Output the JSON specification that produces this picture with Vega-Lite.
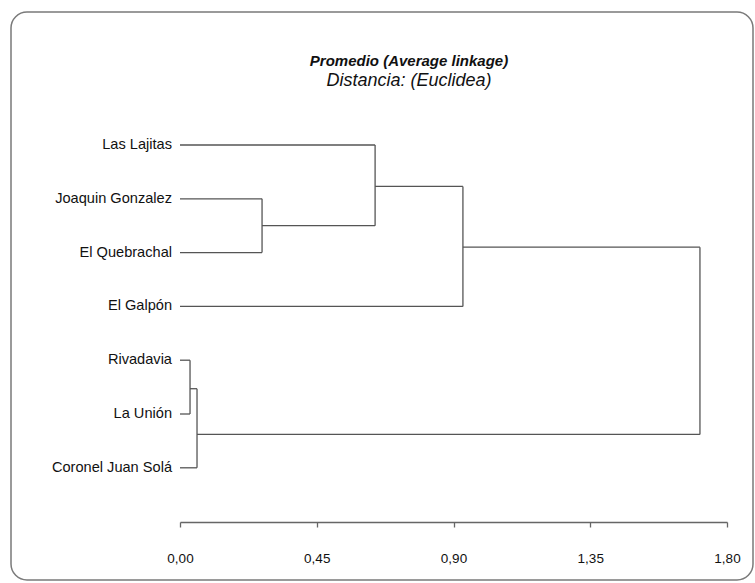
{
  "$schema": "https://vega.github.io/schema/vega-lite/v6.json",
  "autosize": {"type": "none"},
  "padding": {"left": 11, "top": 12, "right": 2, "bottom": 3},
  "width": 742,
  "height": 568,
  "background": "white",
  "config": {
    "font": "Liberation Sans",
    "view": {"stroke": "#7a7a7a", "strokeWidth": 1.5, "cornerRadius": 16}
  },
  "title": {
    "text": "Promedio (Average linkage)",
    "subtitle": "Distancia: (Euclidea)",
    "font": "Liberation Sans",
    "fontSize": 15,
    "fontStyle": "italic",
    "fontWeight": "bold",
    "color": "#111",
    "subtitleFont": "Liberation Sans",
    "subtitleFontSize": 18,
    "subtitleFontStyle": "italic",
    "subtitleColor": "#111",
    "subtitlePadding": 3,
    "anchor": "middle",
    "frame": "group",
    "dx": 27,
    "offset": -78
  },
  "datasets": {
    "segments": [
      {"x1": 0, "x2": 0.642, "y1": 0, "y2": 0},
      {"x1": 0, "x2": 0.27, "y1": 1, "y2": 1},
      {"x1": 0, "x2": 0.27, "y1": 2, "y2": 2},
      {"x1": 0, "x2": 0.931, "y1": 3, "y2": 3},
      {"x1": 0, "x2": 0.033, "y1": 4, "y2": 4},
      {"x1": 0, "x2": 0.033, "y1": 5, "y2": 5},
      {"x1": 0, "x2": 0.056, "y1": 6, "y2": 6},
      {"x1": 0.27, "x2": 0.27, "y1": 1, "y2": 2},
      {"x1": 0.642, "x2": 0.642, "y1": 0, "y2": 1.5},
      {"x1": 0.931, "x2": 0.931, "y1": 0.77, "y2": 3},
      {"x1": 0.033, "x2": 0.033, "y1": 4, "y2": 5},
      {"x1": 0.056, "x2": 0.056, "y1": 4.53, "y2": 6},
      {"x1": 1.711, "x2": 1.711, "y1": 1.9, "y2": 5.38},
      {"x1": 0.27, "x2": 0.642, "y1": 1.5, "y2": 1.5},
      {"x1": 0.642, "x2": 0.931, "y1": 0.77, "y2": 0.77},
      {"x1": 0.931, "x2": 1.711, "y1": 1.9, "y2": 1.9},
      {"x1": 0.033, "x2": 0.056, "y1": 4.53, "y2": 4.53},
      {"x1": 0.056, "x2": 1.711, "y1": 5.38, "y2": 5.38}
    ],
    "leaves": [
      {"leaf": "Las Lajitas", "pos": 0, "dist": 0},
      {"leaf": "Joaquin Gonzalez", "pos": 1, "dist": 0},
      {"leaf": "El Quebrachal", "pos": 2, "dist": 0},
      {"leaf": "El Galpón", "pos": 3, "dist": 0},
      {"leaf": "Rivadavia", "pos": 4, "dist": 0},
      {"leaf": "La Unión", "pos": 5, "dist": 0},
      {"leaf": "Coronel Juan Solá", "pos": 6, "dist": 0}
    ]
  },
  "layer": [
    {
      "data": {"name": "segments"},
      "mark": {"type": "rule", "color": "#555", "strokeWidth": 1.3},
      "encoding": {
        "x": {
          "field": "x1", "type": "quantitative",
          "scale": {"domain": [0, 1.8], "range": [169, 716], "zero": false, "nice": false},
          "axis": {
            "title": null,
            "values": [0, 0.45, 0.9, 1.35, 1.8],
            "labelExpr": "replace(format(datum.value, '.2f'), '.', ',')",
            "grid": false,
            "offset": -58,
            "domainColor": "#666",
            "domainWidth": 1.3,
            "tickColor": "#666",
            "tickWidth": 1.3,
            "tickSize": 5,
            "labelFlush": false,
            "labelOverlap": false,
            "labelPadding": 24,
            "labelFontSize": 13.5,
            "labelColor": "#111",
            "labelFont": "Liberation Sans"
          }
        },
        "x2": {"field": "x2"},
        "y": {
          "field": "y1", "type": "quantitative",
          "scale": {"domain": [0, 6], "range": [133, 455.8], "zero": false, "nice": false},
          "axis": null
        },
        "y2": {"field": "y2"}
      }
    },
    {
      "data": {"name": "leaves"},
      "mark": {"type": "text", "align": "right", "baseline": "middle", "dx": -8, "fontSize": 14.6, "color": "#111", "font": "Liberation Sans"},
      "encoding": {
        "x": {"field": "dist", "type": "quantitative"},
        "y": {"field": "pos", "type": "quantitative"},
        "text": {"field": "leaf"}
      }
    }
  ]
}
